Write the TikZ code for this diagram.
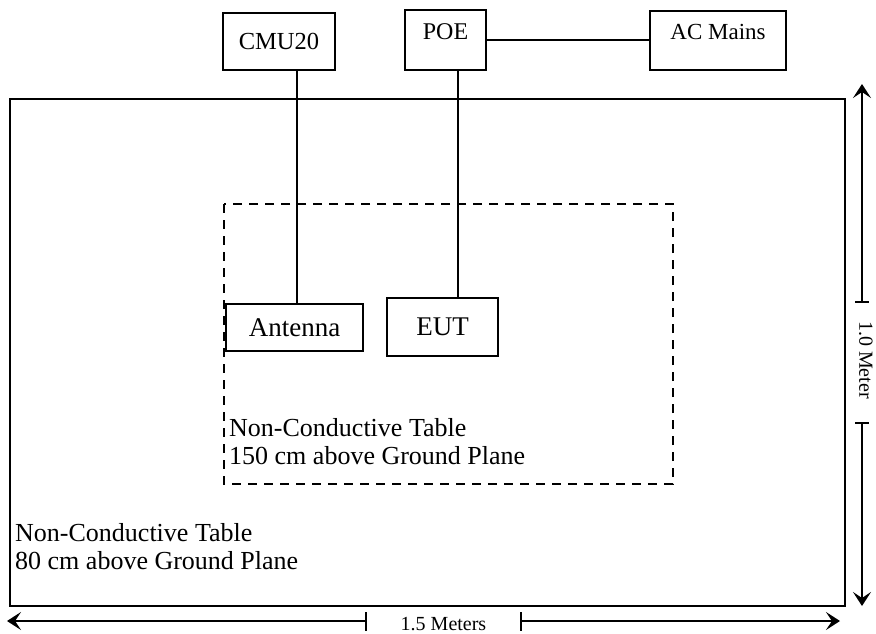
\documentclass[tikz,border=0pt]{standalone}
\usepackage{fontspec}
\setmainfont{Liberation Serif}
\usetikzlibrary{arrows.meta,positioning,calc}

\begin{document}
\begin{tikzpicture}[x=1pt,y=-1pt,
    box/.style={draw, line width=1.4pt, inner sep=0pt},
    wire/.style={line width=1.4pt},
    dimtip/.style={-{Stealth[length=14pt,width=18pt,inset=6pt]}}]
    \useasboundingbox (0,0) rectangle (876,634);

    % outer table (80 cm)
    \draw[line width=2.6pt] (10,99) rectangle (845,606);
    \node[anchor=north west, align=left, inner sep=0pt, font=\fontsize{26}{28.5}\selectfont]
      (lowtable) at (15,523) {Non-Conductive Table\\80 cm above Ground Plane};

    % inner table (150 cm), dashed
    \draw[line width=2.2pt, dash pattern=on 9pt off 7pt] (224,204) rectangle (673,484);
    \node[anchor=north west, align=left, inner sep=0pt, font=\fontsize{26}{28}\selectfont]
      (hightable) at (229,418) {Non-Conductive Table\\150 cm above Ground Plane};

    % equipment outside
    \node[box, minimum width=112pt, minimum height=57pt, font=\fontsize{24.5}{28}\selectfont]
      (cmu) at (279,41.5) {CMU20};
    \node[box, minimum width=81pt, minimum height=60pt, text height=16pt, text depth=17pt,
      font=\fontsize{24}{28}\selectfont] (poe) at (445.5,40) {POE};
    \node[box, minimum width=136pt, minimum height=59pt, text height=16pt, text depth=17pt,
      font=\fontsize{23}{28}\selectfont] (mains) at (718,40.5) {AC Mains};

    % equipment on the table
    \node[box, minimum width=137pt, minimum height=47pt, font=\fontsize{27}{30}\selectfont]
      (antenna) at (294.5,327.5) {Antenna};
    \node[box, minimum width=111pt, minimum height=58pt, font=\fontsize{27}{30}\selectfont]
      (eut) at (442.5,327) {EUT};

    % cables
    \draw[wire] (poe.east) -- (poe.east -| mains.west);
    \draw[wire] ([xshift=2.5pt]antenna.north) -- ([xshift=2.5pt]antenna.north |- cmu.south);
    \draw[wire] ([xshift=15.5pt]eut.north) -- ([xshift=15.5pt]eut.north |- poe.south);

    % width 1.5 m
    \coordinate (wl) at (7,621);
    \coordinate (wr) at (840,621);
    \node[font=\fontsize{20}{24}\selectfont] (wlabel) at (443.5,624) {1.5 Meters};
    \draw[wire, dimtip] (366,621) -- (wl);
    \draw[wire, dimtip] (521,621) -- (wr);
    \draw[wire] (366,612) -- (366,631);
    \draw[wire] (521,612) -- (521,631);

    % height 1.0 m
    \coordinate (ht) at (862,84);
    \coordinate (hb) at (862,606);
    \node[rotate=-90, font=\fontsize{20}{24}\selectfont] (hlabel) at (866,360) {1.0 Meter};
    \draw[wire, dimtip] (862,302) -- (ht);
    \draw[wire, dimtip] (862,423) -- (hb);
    \draw[wire] (855,302) -- (869,302);
    \draw[wire] (855,423) -- (869,423);
\end{tikzpicture}
\end{document}
